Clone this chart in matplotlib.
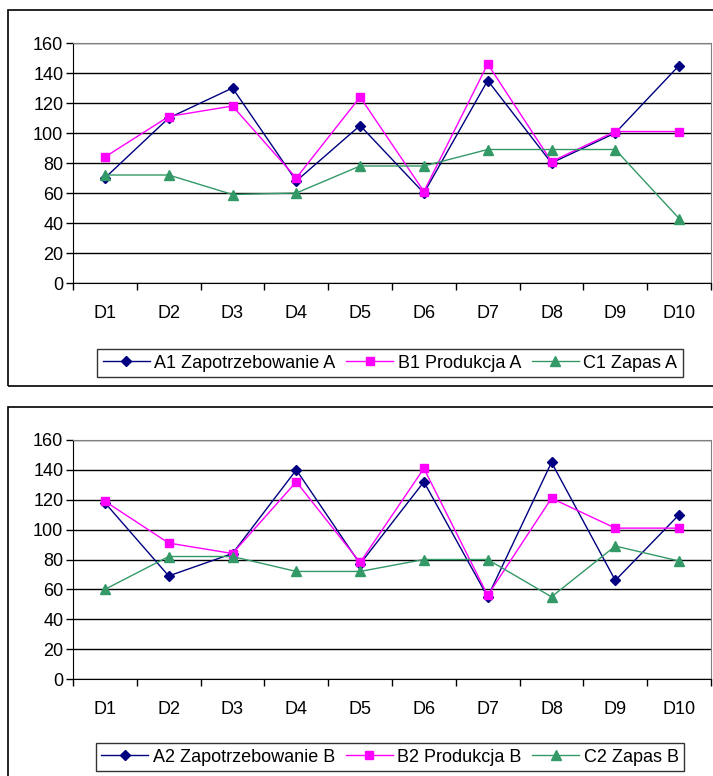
import matplotlib
matplotlib.use("Agg")
import matplotlib.pyplot as plt
from matplotlib.patches import Rectangle

plt.rcParams['font.family'] = ['Liberation Sans', 'DejaVu Sans']

days = ['D1', 'D2', 'D3', 'D4', 'D5', 'D6', 'D7', 'D8', 'D9', 'D10']

# chart A
a1_zapotrzebowanie = [70, 110, 130, 68, 105, 60, 135, 80, 100, 145]
b1_produkcja = [84, 111, 118, 70, 124, 61, 146, 81, 101, 101]
c1_zapas = [72, 72, 59, 60, 78, 78, 89, 89, 89, 43]
labels_a = ['A1 Zapotrzebowanie A', 'B1 Produkcja A', 'C1 Zapas A']

# chart B
a2_zapotrzebowanie = [118, 69, 84, 140, 77, 132, 55, 145, 66, 110]
b2_produkcja = [119, 91, 84, 132, 78, 141, 56, 121, 101, 101]
c2_zapas = [60, 82, 82, 72, 72, 80, 80, 55, 89, 79]
labels_b = ['A2 Zapotrzebowanie B', 'B2 Produkcja B', 'C2 Zapas B']

yticks = [0, 20, 40, 60, 80, 100, 120, 140, 160]

W, H = 713, 776
fig = plt.figure(figsize=(W / 100, H / 100), dpi=100)


def px_rect(x0, y0, x1, y1):
    # pixel box (top-left origin) -> figure fraction [l, b, w, h]
    return [x0 / W, 1 - y1 / H, (x1 - x0) / W, (y1 - y0) / H]


def chart(box_top, box_bottom, plot_top, plot_bottom, leg_top, leg_bottom, series, labels):
    # outer chart frame
    l, b, w, h = px_rect(8, box_top, 730, box_bottom)
    fig.patches.append(Rectangle((l, b), w, h, transform=fig.transFigure,
                                 fill=False, edgecolor='black', linewidth=1.2))

    ax = fig.add_axes(px_rect(73, plot_top, 711, plot_bottom))
    x = [i + 0.5 for i in range(len(days))]
    styles = [('#000080', 'D', 5), ('#FF00FF', 's', 5.5), ('#339966', '^', 6.5)]
    for vals, lab, (c, m, ms) in zip(series, labels, styles):
        ax.plot(x, vals, color=c, marker=m, markersize=ms, linewidth=1.0, label=lab)

    ax.set_xlim(0, 10)
    ax.set_ylim(0, 160)
    ax.set_yticks(yticks)
    ax.yaxis.grid(True, color='black', linewidth=1.0)
    ax.set_axisbelow(True)
    ax.set_xticks(range(11))
    ax.set_xticklabels([])
    ax.set_xticks(x, minor=True)
    ax.set_xticklabels(days, minor=True)
    ax.tick_params(axis='x', which='major', direction='out', length=5, width=1)
    ax.tick_params(axis='x', which='minor', length=0, pad=16, labelsize=13)
    ax.tick_params(axis='y', direction='out', length=5, width=1, labelsize=13, pad=2)
    for s in ('top', 'right'):
        ax.spines[s].set_color('#808080')
    for s in ('left', 'bottom'):
        ax.spines[s].set_color('black')

    lx0, ly0, lw, lh = px_rect(91, leg_top, 689, leg_bottom)
    leg = ax.legend(loc='center', bbox_to_anchor=(lx0 + lw / 2, ly0 + lh / 2),
                    bbox_transform=fig.transFigure, ncol=3, fontsize=13,
                    frameon=True, fancybox=False, edgecolor='black',
                    handlelength=2.6, handletextpad=0.25, columnspacing=0.6,
                    borderpad=0.3, borderaxespad=0)
    leg.get_frame().set_linewidth(1.0)
    return ax


chart(10, 386, 43, 283, 346, 380,
      [a1_zapotrzebowanie, b1_produkcja, c1_zapas], labels_a)
chart(407, 800, 440, 679, 741, 773,
      [a2_zapotrzebowanie, b2_produkcja, c2_zapas], labels_b)

fig.savefig('out.png', dpi=100)
